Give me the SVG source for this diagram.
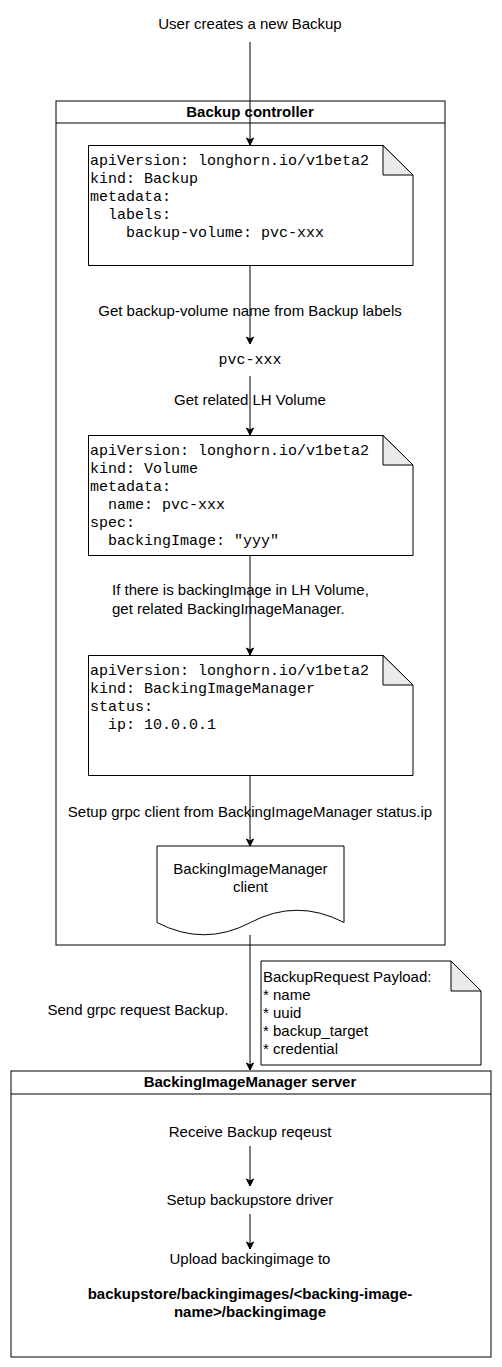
<svg xmlns="http://www.w3.org/2000/svg" width="502" height="1367" viewBox="0 0 502 1367">
<style>
.s{font-family:"Liberation Sans",Arial,sans-serif;font-size:15px;fill:#000}
.b{font-weight:bold}
.m{font-family:"Liberation Mono","Courier New",monospace;font-size:15px;fill:#000}
.box{fill:#fff;stroke:#000;stroke-width:1}
.note{fill:#fff;stroke:#000;stroke-width:1}
.fold{fill:#ebebeb;stroke:#000;stroke-width:1}
.e{stroke:#000;stroke-width:1;fill:none}
</style>
<defs>
<marker id="ar" markerWidth="10" markerHeight="10" refX="8" refY="5" orient="auto" markerUnits="userSpaceOnUse">
<path d="M1,1.5 L8,5 L1,8.5 L3,5 Z" fill="#000" stroke="#000" stroke-width="1"/>
</marker>
</defs>
<rect width="502" height="1367" fill="#fff"/>
<g id="start"><text class="s" x="250" y="29" text-anchor="middle">User creates a new Backup</text></g>
<g id="backup-controller">
<rect class="box" x="56" y="101" width="389" height="844"/>
<line class="e" x1="56" y1="123" x2="445" y2="123"/>
<text class="s b" x="250" y="117" text-anchor="middle">Backup controller</text>
</g>
<g id="note-backup">
<path class="note" d="M88.5,145.5 H383 L413,175 V265.5 H88.5 Z"/>
<path class="fold" d="M383,145.5 V175 H413 Z"/>
<text class="m" x="90" y="165">apiVersion: longhorn.io/v1beta2</text>
<text class="m" x="90" y="183">kind: Backup</text>
<text class="m" x="90" y="201">metadata:</text>
<text class="m" x="90" y="219" xml:space="preserve">  labels:</text>
<text class="m" x="90" y="237" xml:space="preserve">    backup-volume: pvc-xxx</text>
</g>
<g id="pvc"><text class="m" x="250" y="364" text-anchor="middle">pvc-xxx</text></g>
<g id="note-volume">
<path class="note" d="M88.5,435.5 H383 L413,465 V555.5 H88.5 Z"/>
<path class="fold" d="M383,435.5 V465 H413 Z"/>
<text class="m" x="90" y="455">apiVersion: longhorn.io/v1beta2</text>
<text class="m" x="90" y="473">kind: Volume</text>
<text class="m" x="90" y="491">metadata:</text>
<text class="m" x="90" y="509" xml:space="preserve">  name: pvc-xxx</text>
<text class="m" x="90" y="527">spec:</text>
<text class="m" x="90" y="545" xml:space="preserve">  backingImage: "yyy"</text>
</g>
<g id="note-bim">
<path class="note" d="M88.5,655.5 H383 L413,685 V775.5 H88.5 Z"/>
<path class="fold" d="M383,655.5 V685 H413 Z"/>
<text class="m" x="90" y="675">apiVersion: longhorn.io/v1beta2</text>
<text class="m" x="90" y="693">kind: BackingImageManager</text>
<text class="m" x="90" y="711">status:</text>
<text class="m" x="90" y="729" xml:space="preserve">  ip: 10.0.0.1</text>
</g>
<g id="bim-client">
<path class="box" d="M157,846 H344 V922.5 Q297,898 250.5,922.5 T157,922.5 Z"/>
<text class="s" x="250.5" y="874" text-anchor="middle">BackingImageManager</text>
<text class="s" x="250.5" y="892" text-anchor="middle">client</text>
</g>
<g id="note-payload">
<path class="note" d="M261,961 H451 L481,991 V1065 H261 Z"/>
<path class="fold" d="M451,961 V991 H481 Z"/>
<text class="s" x="263" y="982">BackupRequest Payload:</text>
<text class="s" x="263" y="1000">* name</text>
<text class="s" x="263" y="1018">* uuid</text>
<text class="s" x="263" y="1036">* backup_target</text>
<text class="s" x="263" y="1054">* credential</text>
</g>
<g id="bim-server">
<rect class="box" x="11" y="1071" width="480" height="286"/>
<line class="e" x1="11" y1="1094" x2="491" y2="1094"/>
<text class="s b" x="250" y="1087" text-anchor="middle">BackingImageManager server</text>
<text class="s" x="250" y="1137" text-anchor="middle">Receive Backup reqeust</text>
<text class="s" x="250" y="1205" text-anchor="middle">Setup backupstore driver</text>
<text class="s" x="250" y="1264" text-anchor="middle">Upload backingimage to</text>
<text class="s b" x="250" y="1299" text-anchor="middle">backupstore/backingimages/&lt;backing-image-</text>
<text class="s b" x="250" y="1317" text-anchor="middle">name&gt;/backingimage</text>
</g>
<g id="connectors">
<line class="e" x1="250" y1="42" x2="250" y2="145" marker-end="url(#ar)"/>
<line class="e" x1="250" y1="266" x2="250" y2="344" marker-end="url(#ar)"/>
<line class="e" x1="250" y1="376" x2="250" y2="435" marker-end="url(#ar)"/>
<line class="e" x1="250" y1="556" x2="250" y2="655" marker-end="url(#ar)"/>
<line class="e" x1="250" y1="776" x2="250" y2="846" marker-end="url(#ar)"/>
<line class="e" x1="250" y1="935" x2="250" y2="1070" marker-end="url(#ar)"/>
<line class="e" x1="250" y1="1146" x2="250" y2="1186" marker-end="url(#ar)"/>
<line class="e" x1="250" y1="1214" x2="250" y2="1249" marker-end="url(#ar)"/>
<text class="s" x="250" y="316" text-anchor="middle">Get backup-volume name from Backup labels</text>
<text class="s" x="250" y="405" text-anchor="middle">Get related LH Volume</text>
<text class="s" x="112" y="595">If there is backingImage in LH Volume,</text>
<text class="s" x="112" y="614">get related BackingImageManager.</text>
<text class="s" x="250" y="817" text-anchor="middle">Setup grpc client from BackingImageManager status.ip</text>
<text class="s" x="138" y="1015" text-anchor="middle">Send grpc request Backup.</text>
</g>
</svg>
